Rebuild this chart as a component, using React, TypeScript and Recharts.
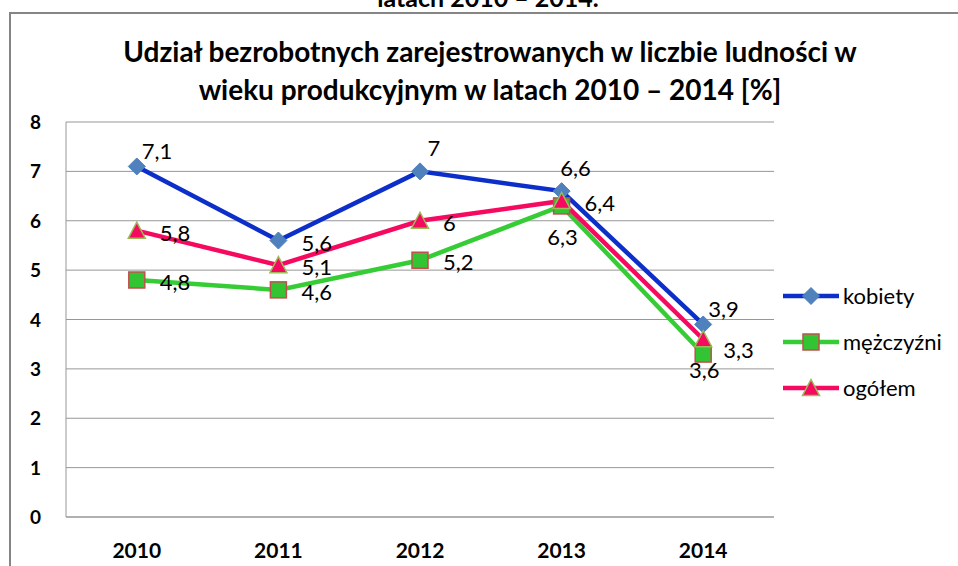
import React from "react"
import { LineChart, Line, XAxis, YAxis, CartesianGrid, LabelList } from "recharts"

// data
const years = ["2010", "2011", "2012", "2013", "2014"]
const kobiety = [7.1, 5.6, 7.0, 6.6, 3.9]
const mezczyzni = [4.8, 4.6, 5.2, 6.3, 3.3]
const ogolem = [5.8, 5.1, 6.0, 6.4, 3.6]
const yTicks = [0, 1, 2, 3, 4, 5, 6, 7, 8]

// where each data label sits around its point (Excel placed them by hand)
const kobietyLabelPos = ["aboveRight", "right", "above", "above", "aboveRight"]
const mezczyzniLabelPos = ["right", "right", "right", "below", "rightLow"]
const ogolemLabelPos = ["right", "right", "right", "right", "below"]

const FONT = "Lato, 'Open Sans', sans-serif"
const GRID = "#979797"

const data = years.map((year, i) => ({
    year,
    kobiety: kobiety[i],
    mezczyzni: mezczyzni[i],
    ogolem: ogolem[i],
}))

type MarkerKind = "diamond" | "square" | "triangle"

function Marker({ kind, cx, cy, fill, stroke }: { kind: MarkerKind; cx: number; cy: number; fill: string; stroke: string }) {
    if (kind === "diamond") {
        const r = 8.5
        return <path d={`M${cx},${cy - r} L${cx + r},${cy} L${cx},${cy + r} L${cx - r},${cy} Z`} fill={fill} stroke={stroke} strokeWidth={1} />
    }
    if (kind === "square") {
        const h = 8
        return <rect x={cx - h} y={cy - h} width={h * 2} height={h * 2} fill={fill} stroke={stroke} strokeWidth={1.5} />
    }
    const h = 8.5
    return <path d={`M${cx},${cy - h} L${cx + h},${cy + h - 1} L${cx - h},${cy + h - 1} Z`} fill={fill} stroke={stroke} strokeWidth={1.5} />
}

const series = [
    { key: "kobiety", name: "kobiety", color: "#0d2fc9", marker: "diamond" as MarkerKind, markerFill: "#4f81bd", markerStroke: "#4f81bd", labelPos: kobietyLabelPos },
    { key: "mezczyzni", name: "mężczyźni", color: "#36cc36", marker: "square" as MarkerKind, markerFill: "#33c433", markerStroke: "#c0504d", labelPos: mezczyzniLabelPos },
    { key: "ogolem", name: "ogółem", color: "#f50a5f", marker: "triangle" as MarkerKind, markerFill: "#f50a5f", markerStroke: "#9bbb59", labelPos: ogolemLabelPos },
]

function formatPl(v: number) {
    return String(v).replace(".", ",")
}

function makeLabel(positions: string[]) {
    return (props: any) => {
        const { x, y, value, index } = props
        if (x == null || y == null) return null
        const pos = positions[index] || "right"
        let tx = x + 23
        let ty = y + 2
        let anchor: "start" | "middle" = "start"
        if (pos === "aboveRight") {
            tx = x + 5
            ty = y - 15
        } else if (pos === "above") {
            tx = x + 14
            ty = y - 23
            anchor = "middle"
        } else if (pos === "below") {
            tx = x + 1
            ty = y + 31
            anchor = "middle"
        } else if (pos === "rightLow") {
            tx = x + 20
            ty = y - 4
        }
        return (
            <text x={tx} y={ty + 8} textAnchor={anchor} fontFamily={FONT} fontSize={22} fill="#000">
                {formatPl(value)}
            </text>
        )
    }
}

function XTick({ x, y, payload }: any) {
    return (
        <text x={x} y={y + 39} textAnchor="middle" fontFamily={FONT} fontWeight={700} fontSize={21} fill="#000">
            {payload.value}
        </text>
    )
}

function YTick({ x, y, payload }: any) {
    return (
        <text x={x} y={y + 7} textAnchor="end" fontFamily={FONT} fontWeight={700} fontSize={19} fill="#000">
            {payload.value}
        </text>
    )
}

export default function App() {
    return (
        <div style={{ position: "absolute", left: 0, top: 0, width: 958, height: 566, overflow: "hidden", background: "#fff", fontFamily: FONT }}>
            {/* cut-off caption above the chart frame */}
            <div style={{ position: "absolute", left: 0, width: 976, top: -15, textAlign: "center", fontWeight: 700, fontSize: 25, lineHeight: "25px", color: "#000" }}>
                latach 2010 – 2014.
            </div>
            <div style={{ position: "absolute", left: 9, top: 12, width: 1000, height: 700, borderTop: "2px solid #858585", borderLeft: "2px solid #858585" }} />
            <div style={{ position: "absolute", left: 0, width: 980, top: 32, textAlign: "center", fontWeight: 700, fontSize: 28, lineHeight: "38px", color: "#000" }}>
                Udział bezrobotnych zarejestrowanych w liczbie ludności w
                <br />
                wieku produkcyjnym w latach 2010 – 2014 [%]
            </div>
            <div style={{ position: "absolute", left: 0, top: 0 }}>
                <LineChart width={958} height={566} data={data} margin={{ top: 122, right: 184, bottom: 0, left: 10 }}>
                    <CartesianGrid horizontal vertical={false} stroke={GRID} strokeWidth={1} />
                    <XAxis
                        dataKey="year"
                        height={49}
                        padding={{ left: 70.8, right: 70.8 }}
                        axisLine={{ stroke: GRID }}
                        tickLine={false}
                        tickSize={0}
                        tick={<XTick />}
                    />
                    <YAxis
                        width={56}
                        domain={[0, 8]}
                        ticks={yTicks}
                        interval={0}
                        axisLine={{ stroke: GRID }}
                        tickLine={false}
                        tickSize={0}
                        tickMargin={25}
                        tick={<YTick />}
                    />
                    {series.map((s) => (
                        <Line
                            key={s.key}
                            dataKey={s.key}
                            name={s.name}
                            type="linear"
                            stroke={s.color}
                            strokeWidth={4.5}
                            isAnimationActive={false}
                            dot={(p: any) => (
                                <Marker key={`${s.key}-${p.index}`} kind={s.marker} cx={p.cx} cy={p.cy} fill={s.markerFill} stroke={s.markerStroke} />
                            )}
                            activeDot={false}
                        >
                            <LabelList dataKey={s.key} content={makeLabel(s.labelPos)} />
                        </Line>
                    ))}
                </LineChart>
            </div>
            {/* legend */}
            <div style={{ position: "absolute", left: 783, top: 273 }}>
                {series.map((s) => (
                    <div key={s.key} style={{ display: "flex", alignItems: "center", height: 46 }}>
                        <svg width={56} height={24} style={{ display: "block" }}>
                            <line x1={0} y1={12} x2={56} y2={12} stroke={s.color} strokeWidth={4.5} />
                            <Marker kind={s.marker} cx={28} cy={12} fill={s.markerFill} stroke={s.markerStroke} />
                        </svg>
                        <span style={{ marginLeft: 4, fontSize: 22, fontWeight: 400, color: "#000", lineHeight: "24px" }}>{s.name}</span>
                    </div>
                ))}
            </div>
        </div>
    )
}
